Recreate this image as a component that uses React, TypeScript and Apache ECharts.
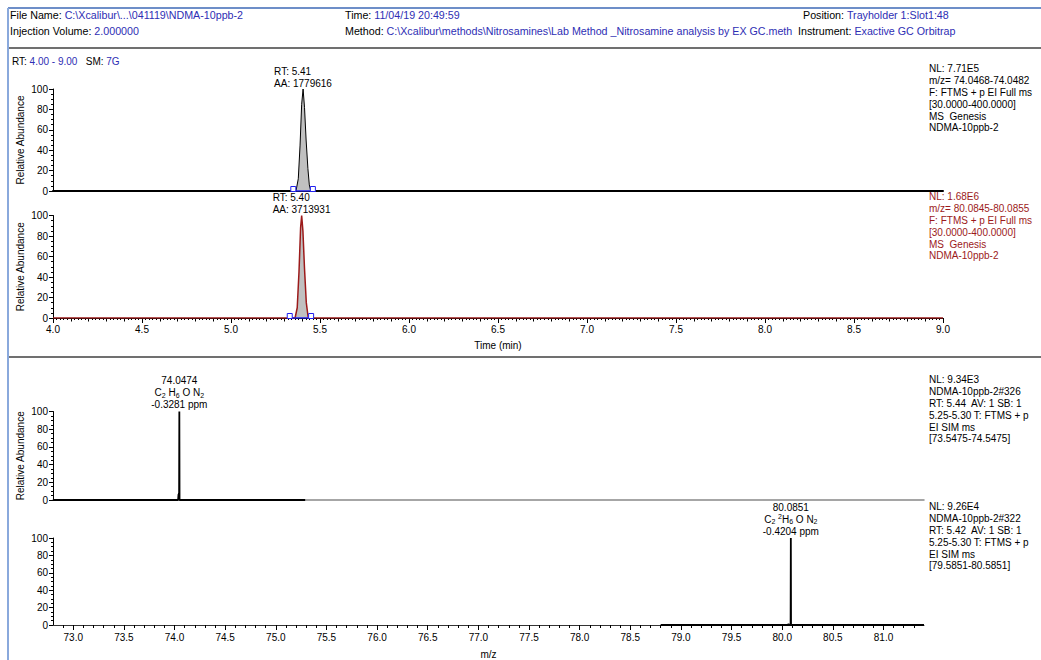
import React, { useEffect, useRef } from "react";
import * as echarts from "echarts";

// ---------- data ----------
const rt1 = [4.0, 5.35, 5.365, 5.378, 5.388, 5.397, 5.405, 5.413, 5.422, 5.432, 5.44, 5.448, 9.0];
const ab1 = [0, 0, 0, 12, 45, 85, 100, 82, 50, 22, 6, 0, 0];
const int1 = [5.35, 5.46];

const rt2 = [4.0, 5.36, 5.372, 5.382, 5.391, 5.397, 5.404, 5.413, 5.423, 5.434, 9.0];
const ab2 = [0, 0, 10, 45, 88, 100, 85, 48, 15, 0, 0];
const int2 = [5.33, 5.45];

const mz3 = [72.8, 74.035, 74.039, 74.043, 74.045, 74.0474, 74.0495, 75.29];
const ab3 = [0, 0, 6, 7, 0, 100, 0, 0];

const mz4 = [78.8, 80.06, 80.062, 80.064, 80.083, 80.0851, 80.087, 81.4];
const ab4 = [0, 0, 1.5, 0, 0, 100, 0, 0];

const mzMajor = [73.0, 73.5, 74.0, 74.5, 75.0, 75.5, 76.0, 76.5, 77.0, 77.5, 78.0, 78.5, 79.0, 79.5, 80.0, 80.5, 81.0];

const peak1Label = ["RT: 5.41", "AA: 1779616"];
const peak2Label = ["RT: 5.40", "AA: 3713931"];
const spec3Label = ["74.0474", "C{s|2} H{s|6} O N{s|2}", "-0.3281 ppm"];
const spec4Label = ["80.0851", "C{s|2} {p|2}H{s|6} O N{s|2}", "-0.4204 ppm"];

const info1 = ["NL: 7.71E5", "m/z= 74.0468-74.0482", "F: FTMS + p EI Full ms", "[30.0000-400.0000]", "MS  Genesis", "NDMA-10ppb-2"];
const info2 = ["NL: 1.68E6", "m/z= 80.0845-80.0855", "F: FTMS + p EI Full ms", "[30.0000-400.0000]", "MS  Genesis", "NDMA-10ppb-2"];
const info3 = ["NL: 9.34E3", "NDMA-10ppb-2#326", "RT: 5.44  AV: 1 SB: 1", "5.25-5.30 T: FTMS + p", "EI SIM ms", "[73.5475-74.5475]"];
const info4 = ["NL: 9.26E4", "NDMA-10ppb-2#322", "RT: 5.42  AV: 1 SB: 1", "5.25-5.30 T: FTMS + p", "EI SIM ms", "[79.5851-80.5851]"];

const header = [
  { k: "File Name: ", v: "C:\\Xcalibur\\...\\041119\\NDMA-10ppb-2", x: 10, y: 15 },
  { k: "Injection Volume: ", v: "2.000000", x: 10, y: 31 },
  { k: "Time: ", v: "11/04/19 20:49:59", x: 345, y: 15 },
  { k: "Method: ", v: "C:\\Xcalibur\\methods\\Nitrosamines\\Lab Method _Nitrosamine analysis by EX GC.meth", x: 345, y: 31 },
  { k: "Position: ", v: "Trayholder 1:Slot1:48", x: 803, y: 15 },
  { k: "Instrument: ", v: "Exactive GC Orbitrap", x: 798, y: 31 },
];

const FONT = "Liberation Sans, Arial, sans-serif";
const BLUE = "#2e2eb4";
const RED = "#9c1a1a";

const zip = (a: number[], b: number[]) => a.map((v, i) => [v, b[i]]);

function range(a: number, b: number, step: number) {
  const out: number[] = [];
  const n = Math.round((b - a) / step);
  for (let i = 0; i <= n; i++) out.push(+(a + i * step).toFixed(4));
  return out;
}

export default function App() {
  const ref = useRef<HTMLDivElement>(null);
  useEffect(() => {
    const chart = echarts.init(ref.current!, null, { renderer: "svg" });

    const yAxisBase = (gi: number, withName: boolean) => ({
      type: "value",
      gridIndex: gi,
      min: 0,
      max: 100,
      interval: 20,
      name: withName ? "Relative Abundance" : "",
      nameLocation: "middle",
      nameGap: 28,
      nameMoveOverlap: false,
      nameRotate: 90,
      nameTextStyle: { fontSize: 10, color: "#000", fontFamily: FONT },
      axisLine: { show: true, lineStyle: { color: "#000", width: 1 } },
      axisTick: { show: true, length: 4, lineStyle: { color: "#000" } },
      minorTick: { show: true, splitNumber: 4, length: 2, lineStyle: { color: "#000" } },
      axisLabel: { fontSize: 10, color: "#000", margin: 5, fontFamily: FONT },
      splitLine: { show: false },
      minorSplitLine: { show: false },
    });

    const infoText = (lines: string[], y: number, color: string) => ({
      type: "text",
      x: 929,
      y,
      style: {
        text: lines.join("\n"),
        fill: color,
        font: `10px ${FONT}`,
        lineHeight: 11.8,
        verticalAlign: "top",
      },
    });

    const peakMark = (lines: string[], offX: number) => ({
      symbol: "rect",
      symbolSize: 0,
      data: [
        {
          type: "max",
          valueIndex: 1,
          label: {
            show: true,
            position: "top",
            distance: 0,
            align: "left",
            offset: [offX, 0],
            formatter: lines.join("\n"),
            fontSize: 10,
            lineHeight: 12,
            color: "#000",
            fontFamily: FONT,
          },
        },
      ],
    });

    const specMark = (lines: string[]) => ({
      symbol: "rect",
      symbolSize: 0,
      data: [
        {
          type: "max",
          valueIndex: 1,
          label: {
            show: true,
            position: "top",
            distance: 1,
            align: "center",
            formatter: lines.join("\n"),
            fontSize: 10,
            lineHeight: 12,
            color: "#000",
            fontFamily: FONT,
            rich: {
              s: { fontSize: 7, lineHeight: 8, verticalAlign: "bottom", color: "#000", fontFamily: FONT },
              p: { fontSize: 7, lineHeight: 8, verticalAlign: "top", color: "#000", fontFamily: FONT },
            },
          },
        },
      ],
    });

    const option: any = {
      animation: false,
      backgroundColor: "#fff",
      textStyle: { fontFamily: FONT },
      grid: [
        { left: 53, top: 89, width: 890, height: 102 },
        { left: 53, top: 215.5, width: 890, height: 102.5 },
        { left: 53, top: 411.5, width: 871, height: 88.5 },
        { left: 53, top: 538, width: 871, height: 89 },
      ],
      xAxis: [
        {
          type: "value", gridIndex: 0, min: 4, max: 9,
          axisLine: { show: true, onZero: false, lineStyle: { color: "#000", width: 2 } },
          axisTick: { show: false }, axisLabel: { show: false }, splitLine: { show: false },
        },
        {
          type: "value", gridIndex: 1, min: 4, max: 9, interval: 0.5,
          name: "Time (min)", nameLocation: "middle", nameGap: 22,
          nameTextStyle: { fontSize: 10, color: "#000", fontFamily: FONT },
          axisLine: { show: true, onZero: false, lineStyle: { color: "#000", width: 1 } },
          axisTick: { show: true, length: 5, lineStyle: { color: "#000" } },
          minorTick: { show: true, splitNumber: 25, length: 2, lineStyle: { color: "#000" } },
          axisLabel: { fontSize: 10, color: "#000", margin: 6, fontFamily: FONT, formatter: (v: number) => v.toFixed(1) },
          splitLine: { show: false }, minorSplitLine: { show: false },
        },
        {
          type: "value", gridIndex: 1, min: 4, max: 9, position: "bottom",
          axisLine: { show: false },
          axisTick: { show: true, length: 3.5, customValues: range(4, 9, 0.1), lineStyle: { color: "#000" } },
          axisLabel: { show: false }, splitLine: { show: false },
        },
        {
          type: "value", gridIndex: 2, min: 72.8, max: 81.4,
          axisLine: { show: true, onZero: false, lineStyle: { color: "#888", width: 1.5 } },
          axisTick: { show: false }, axisLabel: { show: false }, splitLine: { show: false },
        },
        {
          type: "value", gridIndex: 3, min: 72.8, max: 81.4,
          name: "m/z", nameLocation: "middle", nameGap: 24,
          nameTextStyle: { fontSize: 10, color: "#000", fontFamily: FONT },
          axisLine: { show: true, onZero: false, lineStyle: { color: "#333", width: 1 } },
          axisTick: { show: true, length: 5, customValues: mzMajor, lineStyle: { color: "#000" } },
          axisLabel: { fontSize: 10, color: "#000", margin: 7, fontFamily: FONT, customValues: mzMajor, formatter: (v: number) => v.toFixed(1) },
          splitLine: { show: false },
        },
        {
          type: "value", gridIndex: 3, min: 72.8, max: 81.4, position: "bottom",
          axisLine: { show: false },
          axisTick: { show: true, length: 3, customValues: range(72.9, 81.3, 0.1), lineStyle: { color: "#000" } },
          axisLabel: { show: false }, splitLine: { show: false },
        },
      ],
      yAxis: [yAxisBase(0, true), yAxisBase(1, true), yAxisBase(2, true), yAxisBase(3, false)],
      series: [
        {
          type: "line", xAxisIndex: 0, yAxisIndex: 0, data: zip(rt1, ab1),
          symbol: "none", lineStyle: { color: "#000", width: 1 },
          areaStyle: { color: "#c0c0c0", opacity: 1 },
          markPoint: peakMark(peak1Label, -29),
          z: 3,
        },
        {
          type: "line", xAxisIndex: 0, yAxisIndex: 0, data: int1.map((v) => [v, 0]),
          symbol: "rect", symbolSize: 5, showSymbol: true, symbolOffset: [0, -2],
          itemStyle: { color: "#fff", borderColor: "#2020f0", borderWidth: 1 },
          lineStyle: { color: "#2020f0", width: 1.5 }, z: 4,
        },
        {
          type: "line", xAxisIndex: 1, yAxisIndex: 1, data: zip(rt2, ab2),
          symbol: "none", lineStyle: { color: RED, width: 1.5 },
          areaStyle: { color: "#c0c0c0", opacity: 1 },
          markPoint: peakMark(peak2Label, -29),
          z: 3,
        },
        {
          type: "line", xAxisIndex: 1, yAxisIndex: 1, data: int2.map((v) => [v, 0]),
          symbol: "rect", symbolSize: 5, showSymbol: true, symbolOffset: [0, -2],
          itemStyle: { color: "#fff", borderColor: "#2020f0", borderWidth: 1 },
          lineStyle: { color: "#2020f0", width: 1.5 }, z: 4,
        },
        {
          type: "line", xAxisIndex: 3, yAxisIndex: 2, data: zip(mz3, ab3),
          symbol: "none", lineStyle: { color: "#000", width: 1.8 },
          markPoint: specMark(spec3Label), z: 3,
        },
        {
          type: "line", xAxisIndex: 4, yAxisIndex: 3, data: zip(mz4, ab4),
          symbol: "none", lineStyle: { color: "#000", width: 1.8 },
          markPoint: specMark(spec4Label), z: 3,
        },
      ],
      graphic: [
        { type: "line", shape: { x1: 8, y1: 8, x2: 1041, y2: 8 }, style: { stroke: "#6d8ec8", lineWidth: 2 } },
        { type: "line", shape: { x1: 8, y1: 8, x2: 8, y2: 660 }, style: { stroke: "#8aa9dc", lineWidth: 2 } },
        { type: "line", shape: { x1: 9, y1: 48, x2: 1041, y2: 48 }, style: { stroke: "#707070", lineWidth: 2 } },
        { type: "line", shape: { x1: 9, y1: 357, x2: 1041, y2: 357 }, style: { stroke: "#707070", lineWidth: 2 } },
        ...header.map((h) => ({
          type: "text",
          x: h.x,
          y: h.y,
          style: {
            text: `{k|${h.k}}{v|${h.v}}`,
            verticalAlign: "middle",
            rich: {
              k: { fill: "#000", font: `10.7px ${FONT}` },
              v: { fill: BLUE, font: `10.7px ${FONT}` },
            },
          },
        })),
        {
          type: "text",
          x: 12,
          y: 61,
          style: {
            text: "{k|RT: }{v|4.00 - 9.00}{k|   SM: }{v|7G}",
            verticalAlign: "middle",
            rich: {
              k: { fill: "#000", font: `10px ${FONT}` },
              v: { fill: BLUE, font: `10px ${FONT}` },
            },
          },
        },
        infoText(info1, 63, "#000"),
        infoText(info2, 191, RED),
        infoText(info3, 374, "#000"),
        infoText(info4, 501, "#000"),
      ],
    };

    chart.setOption(option);
    return () => chart.dispose();
  }, []);

  return (
    <div
      ref={ref}
      style={{ position: "fixed", left: 0, top: 0, width: 1041, height: 660, background: "#fff" }}
    />
  );
}
